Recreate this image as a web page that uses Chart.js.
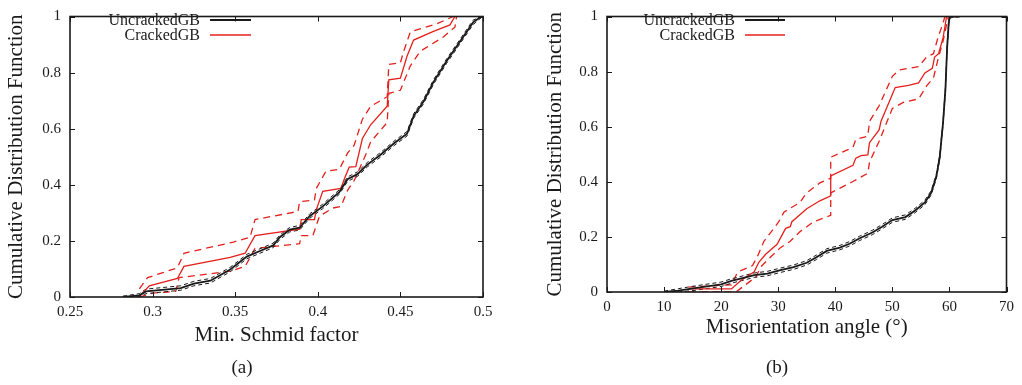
<!DOCTYPE html>
<html>
<head>
<meta charset="utf-8">
<title>CDF of grain boundaries</title>
<script src="https://cdn.jsdelivr.net/npm/chart.js@4.4.1/dist/chart.umd.min.js"></script>
<style>
  body { margin: 0; background: #fff; }
  #wrap { position: relative; width: 1022px; height: 385px; }
  #wrap canvas { position: absolute; top: 0; }
</style>
</head>
<body>
<div id="wrap">
  <canvas id="schmid" width="511" height="385" style="left:0"></canvas>
  <canvas id="angle" width="502" height="385" style="left:520px"></canvas>
</div>
<script>
// tick labels
const schmidTicks = [0.25, 0.3, 0.35, 0.4, 0.45, 0.5];
const angleTicks = [0, 10, 20, 30, 40, 50, 60, 70];
const cdfTicks = [0, 0.2, 0.4, 0.6, 0.8, 1];

// (a) Min. Schmid factor - UncrackedGB with confidence band
const schmidUncrackedX = [0.282, 0.292, 0.296, 0.317, 0.325, 0.335, 0.347, 0.357, 0.365, 0.373, 0.377, 0.383, 0.389, 0.395, 0.403, 0.413, 0.418, 0.424, 0.430, 0.438, 0.446, 0.454, 0.458, 0.464, 0.470, 0.478, 0.486, 0.494, 0.499];
const schmidUncracked = [0.000, 0.006, 0.020, 0.032, 0.048, 0.058, 0.098, 0.144, 0.164, 0.184, 0.213, 0.240, 0.247, 0.288, 0.323, 0.374, 0.420, 0.438, 0.472, 0.507, 0.547, 0.582, 0.645, 0.697, 0.766, 0.841, 0.910, 0.979, 1.000];
const schmidUncrackedHi = [0.003, 0.012, 0.028, 0.040, 0.056, 0.066, 0.106, 0.152, 0.172, 0.192, 0.221, 0.248, 0.255, 0.296, 0.331, 0.382, 0.428, 0.446, 0.480, 0.515, 0.555, 0.590, 0.653, 0.705, 0.774, 0.849, 0.918, 0.987, 1.000];
const schmidUncrackedLo = [0.000, 0.001, 0.012, 0.024, 0.040, 0.050, 0.090, 0.136, 0.156, 0.176, 0.205, 0.232, 0.239, 0.280, 0.315, 0.366, 0.412, 0.430, 0.464, 0.499, 0.539, 0.574, 0.637, 0.689, 0.758, 0.833, 0.902, 0.971, 0.996];

// (a) CrackedGB
const schmidCrackedX = [0.292, 0.298, 0.315, 0.319, 0.347, 0.356, 0.362, 0.389, 0.390, 0.398, 0.399, 0.403, 0.414, 0.416, 0.419, 0.423, 0.427, 0.432, 0.442, 0.443, 0.450, 0.454, 0.458, 0.470, 0.480, 0.483];
const schmidCracked = [0.002, 0.040, 0.066, 0.109, 0.141, 0.156, 0.219, 0.242, 0.276, 0.276, 0.310, 0.377, 0.387, 0.420, 0.463, 0.465, 0.565, 0.614, 0.680, 0.774, 0.780, 0.858, 0.916, 0.947, 0.970, 1.000];
const schmidCrackedHiX = [0.292, 0.297, 0.315, 0.319, 0.349, 0.359, 0.362, 0.388, 0.389, 0.398, 0.399, 0.405, 0.413, 0.418, 0.422, 0.427, 0.432, 0.442, 0.443, 0.450, 0.452, 0.456, 0.472, 0.482];
const schmidCrackedHi = [0.029, 0.069, 0.104, 0.156, 0.196, 0.213, 0.276, 0.305, 0.340, 0.346, 0.386, 0.449, 0.455, 0.513, 0.541, 0.634, 0.680, 0.714, 0.829, 0.835, 0.876, 0.945, 0.974, 1.000];
const schmidCrackedLoX = [0.292, 0.300, 0.314, 0.316, 0.347, 0.356, 0.362, 0.389, 0.390, 0.397, 0.401, 0.409, 0.414, 0.418, 0.422, 0.429, 0.432, 0.442, 0.443, 0.450, 0.456, 0.462, 0.476, 0.483, 0.484];
const schmidCrackedLo = [0.000, 0.014, 0.020, 0.069, 0.092, 0.109, 0.173, 0.190, 0.219, 0.219, 0.288, 0.317, 0.323, 0.380, 0.415, 0.507, 0.553, 0.622, 0.726, 0.737, 0.824, 0.876, 0.927, 0.962, 1.000];

// (b) Misorientation angle - UncrackedGB
const angleUncrackedX = [10.0, 12.5, 15.4, 20.0, 21.8, 24.1, 25.8, 28.1, 30.4, 32.7, 35.0, 36.7, 38.5, 40.8, 42.5, 44.2, 46.5, 48.2, 50.0, 52.3, 54.0, 55.7, 56.8, 57.7, 58.3, 58.9, 59.3, 59.6, 59.9, 60.1, 61.8];
const angleUncracked = [0.000, 0.005, 0.014, 0.028, 0.040, 0.052, 0.061, 0.067, 0.079, 0.090, 0.106, 0.126, 0.149, 0.161, 0.175, 0.194, 0.216, 0.237, 0.261, 0.272, 0.296, 0.325, 0.360, 0.419, 0.489, 0.619, 0.736, 0.889, 0.982, 1.000, 1.000];
const angleUncrackedHi = [0.003, 0.012, 0.022, 0.036, 0.048, 0.060, 0.069, 0.075, 0.087, 0.098, 0.114, 0.134, 0.157, 0.169, 0.183, 0.202, 0.224, 0.245, 0.269, 0.280, 0.304, 0.333, 0.368, 0.427, 0.497, 0.627, 0.744, 0.897, 0.990, 1.000, 1.000];
const angleUncrackedLo = [0.000, 0.000, 0.006, 0.020, 0.032, 0.044, 0.053, 0.059, 0.071, 0.082, 0.098, 0.118, 0.141, 0.153, 0.167, 0.186, 0.208, 0.229, 0.253, 0.264, 0.288, 0.317, 0.352, 0.411, 0.481, 0.611, 0.728, 0.881, 0.974, 0.995, 1.000];

// (b) CrackedGB
const angleCrackedX = [14.3, 21.8, 23.5, 25.8, 26.6, 27.8, 29.8, 31.3, 32.1, 32.4, 35.0, 37.3, 39.2, 39.2, 43.1, 43.6, 44.5, 45.7, 46.0, 47.7, 48.0, 50.5, 52.8, 54.6, 55.7, 57.0, 57.4, 58.1, 58.9, 59.5];
const angleCracked = [0.011, 0.011, 0.043, 0.073, 0.108, 0.137, 0.173, 0.231, 0.237, 0.255, 0.302, 0.331, 0.349, 0.421, 0.460, 0.486, 0.495, 0.498, 0.542, 0.589, 0.619, 0.742, 0.750, 0.759, 0.795, 0.812, 0.853, 0.865, 0.924, 1.000];
const angleCrackedHiX = [14.3, 21.8, 22.9, 25.5, 26.4, 27.5, 30.1, 31.0, 33.8, 35.0, 37.3, 39.2, 39.2, 43.1, 43.6, 45.7, 46.0, 47.7, 50.0, 51.2, 54.6, 56.0, 57.2, 58.0, 58.9, 59.2];
const angleCrackedHi = [0.018, 0.026, 0.073, 0.096, 0.131, 0.184, 0.255, 0.290, 0.325, 0.360, 0.396, 0.413, 0.489, 0.525, 0.554, 0.566, 0.619, 0.677, 0.783, 0.806, 0.818, 0.853, 0.865, 0.924, 0.977, 1.000];
const angleCrackedLoX = [14.3, 22.6, 26.1, 26.9, 28.3, 30.4, 32.1, 33.8, 36.2, 39.2, 39.2, 43.1, 45.7, 46.0, 47.7, 50.0, 52.0, 54.6, 56.0, 57.2, 58.1, 58.9, 59.5, 59.8];
const angleCrackedLo = [0.000, 0.000, 0.055, 0.090, 0.120, 0.161, 0.184, 0.219, 0.255, 0.278, 0.360, 0.401, 0.431, 0.472, 0.548, 0.666, 0.689, 0.701, 0.748, 0.777, 0.853, 0.912, 0.970, 1.000];

const RED = 'rgb(228, 32, 28)';
const INK = '#1a1a1a';
Chart.defaults.font.family = "'Liberation Serif', 'Times New Roman', serif";
Chart.defaults.color = INK;

function pts(xs, ys) {
  return xs.map((x, i) => ({ x: x, y: ys[i] }));
}

function line(label, xs, ys, color, width, dash) {
  return {
    label: label,
    data: pts(xs, ys),
    showLine: true,
    borderColor: color,
    borderWidth: width,
    borderDash: dash || [],
    pointRadius: 0,
    fill: false
  };
}

// gnuplot-like frame: inward ticks on all four sides, box, key and caption
const gnuplotFrame = {
  id: 'gnuplotFrame',
  afterDraw(chart, args, opts) {
    const { ctx, chartArea: a } = chart;
    const x = chart.scales.x, y = chart.scales.y;
    ctx.save();
    ctx.strokeStyle = INK;
    ctx.lineWidth = 1;
    ctx.beginPath();
    x.ticks.forEach(t => {
      const px = Math.round(x.getPixelForValue(t.value)) + 0.5;
      ctx.moveTo(px, a.bottom); ctx.lineTo(px, a.bottom - 5);
      ctx.moveTo(px, a.top); ctx.lineTo(px, a.top + 5);
    });
    y.ticks.forEach(t => {
      const py = Math.round(y.getPixelForValue(t.value)) + 0.5;
      ctx.moveTo(a.left, py); ctx.lineTo(a.left + 5, py);
      ctx.moveTo(a.right, py); ctx.lineTo(a.right - 5, py);
    });
    ctx.stroke();
    ctx.lineWidth = 1.6;
    ctx.strokeRect(a.left, a.top, a.right - a.left, a.bottom - a.top);

    // key
    ctx.font = "16px 'Liberation Serif', serif";
    ctx.textAlign = 'right';
    ctx.textBaseline = 'alphabetic';
    ctx.fillStyle = INK;
    const keyed = chart.data.datasets.filter(d => d.label);
    keyed.forEach((d, i) => {
      const ry = opts.rows[i];
      ctx.fillText(d.label, opts.keyRight, ry + 4.5);
      ctx.beginPath();
      ctx.strokeStyle = d.borderColor;
      ctx.lineWidth = d.borderWidth;
      ctx.moveTo(opts.lineFrom, ry);
      ctx.lineTo(opts.lineTo, ry);
      ctx.stroke();
    });

    // caption
    ctx.font = "19px 'Liberation Serif', serif";
    ctx.textAlign = 'center';
    ctx.textBaseline = 'middle';
    ctx.fillText(opts.caption, opts.captionX, opts.captionY);
    ctx.restore();
  }
};

function makeChart(id, datasets, cfg) {
  new Chart(document.getElementById(id), {
    type: 'scatter',
    data: { datasets: datasets },
    options: {
      responsive: false,
      animation: false,
      layout: { padding: { top: 7, right: cfg.padRight, left: 0, bottom: 0 } },
      plugins: {
        legend: { display: false },
        tooltip: { enabled: false },
        gnuplotFrame: cfg.frame
      },
      scales: {
        x: {
          type: 'linear',
          min: cfg.xMin,
          max: cfg.xMax,
          grid: { display: false, drawTicks: false },
          border: { display: false },
          afterBuildTicks: s => { s.ticks = cfg.xTicks.map(v => ({ value: v })); },
          afterFit: s => { s.height = cfg.xHeight; },
          ticks: {
            padding: cfg.xTickPad,
            font: { size: 15, lineHeight: 1 },
            callback: v => String(v)
          },
          title: {
            display: true,
            text: cfg.xTitle,
            font: { size: 21, lineHeight: 1.2 },
            padding: { top: 0, bottom: cfg.xTitlePad }
          }
        },
        y: {
          type: 'linear',
          min: 0,
          max: 1,
          grid: { display: false, drawTicks: false },
          border: { display: false },
          afterBuildTicks: s => { s.ticks = cdfTicks.map(v => ({ value: v })); },
          afterFit: s => { s.width = cfg.yWidth; },
          ticks: {
            padding: 9,
            font: { size: 15, lineHeight: 1 },
            callback: v => String(v)
          },
          title: {
            display: true,
            text: 'Cumulative Distribution Function',
            font: { size: 21, lineHeight: 1.2 },
            padding: { top: cfg.yTitlePad, bottom: 0 }
          }
        }
      }
    },
    plugins: [gnuplotFrame]
  });
}

makeChart('schmid', [
  line('UncrackedGB', schmidUncrackedX, schmidUncracked, INK, 1.8),
  line('CrackedGB', schmidCrackedX, schmidCracked, RED, 1.3),
  line('', schmidUncrackedX, schmidUncrackedHi, INK, 1, [4, 3]),
  line('', schmidUncrackedX, schmidUncrackedLo, INK, 1, [4, 3]),
  line('', schmidCrackedHiX, schmidCrackedHi, RED, 1.3, [7, 5]),
  line('', schmidCrackedLoX, schmidCrackedLo, RED, 1.3, [7, 5])
], {
  xMin: 0.25, xMax: 0.5, xTicks: schmidTicks,
  xTitle: 'Min. Schmid factor',
  padRight: 28, yWidth: 70, xHeight: 88, xTickPad: 8,
  xTitlePad: 37, yTitlePad: 4,
  frame: { keyRight: 200, lineFrom: 210, lineTo: 251, rows: [20, 35], caption: '(a)', captionX: 242, captionY: 368 }
});

makeChart('angle', [
  line('UncrackedGB', angleUncrackedX, angleUncracked, INK, 1.8),
  line('CrackedGB', angleCrackedX, angleCracked, RED, 1.3),
  line('', angleUncrackedX, angleUncrackedHi, INK, 1, [4, 3]),
  line('', angleUncrackedX, angleUncrackedLo, INK, 1, [4, 3]),
  line('', angleCrackedHiX, angleCrackedHi, RED, 1.3, [7, 5]),
  line('', angleCrackedLoX, angleCrackedLo, RED, 1.3, [7, 5])
], {
  xMin: 0, xMax: 70, xTicks: angleTicks,
  xTitle: 'Misorientation angle (\u00b0)',
  padRight: 9, yWidth: 87, xHeight: 93, xTickPad: 8,
  xTitlePad: 45, yTitlePad: 23,
  frame: { keyRight: 215, lineFrom: 225, lineTo: 265, rows: [20, 35], caption: '(b)', captionX: 257, captionY: 368 }
});
</script>
</body>
</html>
